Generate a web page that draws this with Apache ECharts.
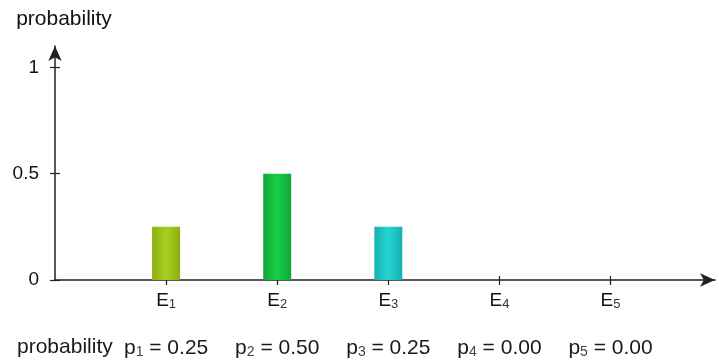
<!DOCTYPE html>
<html>
<head>
<meta charset="utf-8">
<script src="https://cdn.jsdelivr.net/npm/echarts@6/dist/echarts.min.js"></script>
<style>
html,body{margin:0;padding:0;background:#fff;}
#c{width:719px;height:362px;}
</style>
</head>
<body>
<div id="c"></div>
<script>
var categories = ['1', '2', '3', '4', '5'];
var probabilities = [0.25, 0.50, 0.25, 0.00, 0.00];
var yTicks = [0, 0.5, 1];
var yTickLabels = ['0', '0.5', '1'];
var barColors = [
  ['#8cae12', '#a6d01e'],
  ['#12a63a', '#16d046'],
  ['#16b0b0', '#22d6d2']
];

var FONT = 'Liberation Sans, Arial, sans-serif';
var xPositions = categories.map(function (c, i) { return i + 1; });

function grad(i) {
  var c = barColors[i] || ['#999', '#bbb'];
  return new echarts.graphic.LinearGradient(0, 0, 1, 0, [
    { offset: 0, color: c[0] },
    { offset: 0.5, color: c[1] },
    { offset: 1, color: c[0] }
  ]);
}

var chart = echarts.init(document.getElementById('c'));
var common = { min: 0, max: 5.94, type: 'value', position: 'bottom', splitLine: { show: false } };
chart.setOption({
  animation: false,
  backgroundColor: '#fff',
  grid: { left: 55, right: 4, top: 46, bottom: 82, containLabel: false, outerBoundsMode: 'none' },
  graphic: [{
    type: 'text', left: 17, top: 337,
    style: { text: 'probability', font: '21px ' + FONT, fill: '#1a1a1a' }
  }],
  xAxis: [
    Object.assign({}, common, {
      axisLine: { show: true, symbol: ['none', 'arrow'], symbolSize: [10, 15], lineStyle: { color: '#222', width: 1.5 } },
      axisTick: { show: true, inside: false, length: 5, customValues: xPositions, lineStyle: { color: '#222', width: 1.2 } },
      axisLabel: {
        show: true, margin: 10, customValues: xPositions,
        formatter: function (v) { return '{e|E}{s|' + categories[Math.round(v) - 1] + '}'; },
        rich: {
          e: { fontSize: 19, fontFamily: FONT, color: '#111' },
          s: { fontSize: 13, fontFamily: FONT, color: '#333', verticalAlign: 'bottom', padding: [8, 0, 0, 0] }
        }
      }
    }),
    Object.assign({}, common, {
      axisLine: { show: false },
      axisTick: { show: true, inside: true, length: 4, customValues: xPositions, lineStyle: { color: '#222', width: 1.2 } },
      axisLabel: {
        show: true, margin: 57, customValues: xPositions,
        formatter: function (v) {
          var i = Math.round(v) - 1;
          return '{p|p}{s|' + categories[i] + '}{p| = ' + probabilities[i].toFixed(2) + '}';
        },
        rich: {
          p: { fontSize: 21, fontFamily: FONT, color: '#1a1a1a' },
          s: { fontSize: 14, fontFamily: FONT, color: '#444', verticalAlign: 'bottom', padding: [8, 0, 0, 0] }
        }
      }
    })
  ],
  yAxis: [
    {
      type: 'value', min: 0, max: 1.1, position: 'left',
      name: 'probability', nameLocation: 'end', nameGap: 16,
      nameTextStyle: { fontSize: 21, fontFamily: FONT, color: '#111', align: 'center', padding: [0, 0, 0, 18] },
      splitLine: { show: false },
      axisLine: { show: true, symbol: ['none', 'arrow'], symbolSize: [10, 15], lineStyle: { color: '#222', width: 1.5 } },
      axisTick: { show: true, inside: false, length: 5, customValues: yTicks, lineStyle: { color: '#222', width: 1.2 } },
      axisLabel: {
        show: true, margin: 16, customValues: yTicks, fontSize: 19, fontFamily: FONT, color: '#111',
        formatter: function (v) { var i = yTicks.indexOf(v); return i >= 0 ? yTickLabels[i] : ''; }
      }
    },
    {
      type: 'value', min: 0, max: 1.1, position: 'left', splitLine: { show: false },
      axisLine: { show: false }, axisLabel: { show: false },
      axisTick: { show: true, inside: true, length: 5, customValues: yTicks, lineStyle: { color: '#222', width: 1.2 } }
    }
  ],
  series: [{
    type: 'bar', xAxisIndex: 0, yAxisIndex: 0, barWidth: 28,
    data: probabilities.map(function (p, i) {
      return { value: [xPositions[i], p], itemStyle: { color: grad(i) } };
    })
  }]
});
</script>
</body>
</html>
